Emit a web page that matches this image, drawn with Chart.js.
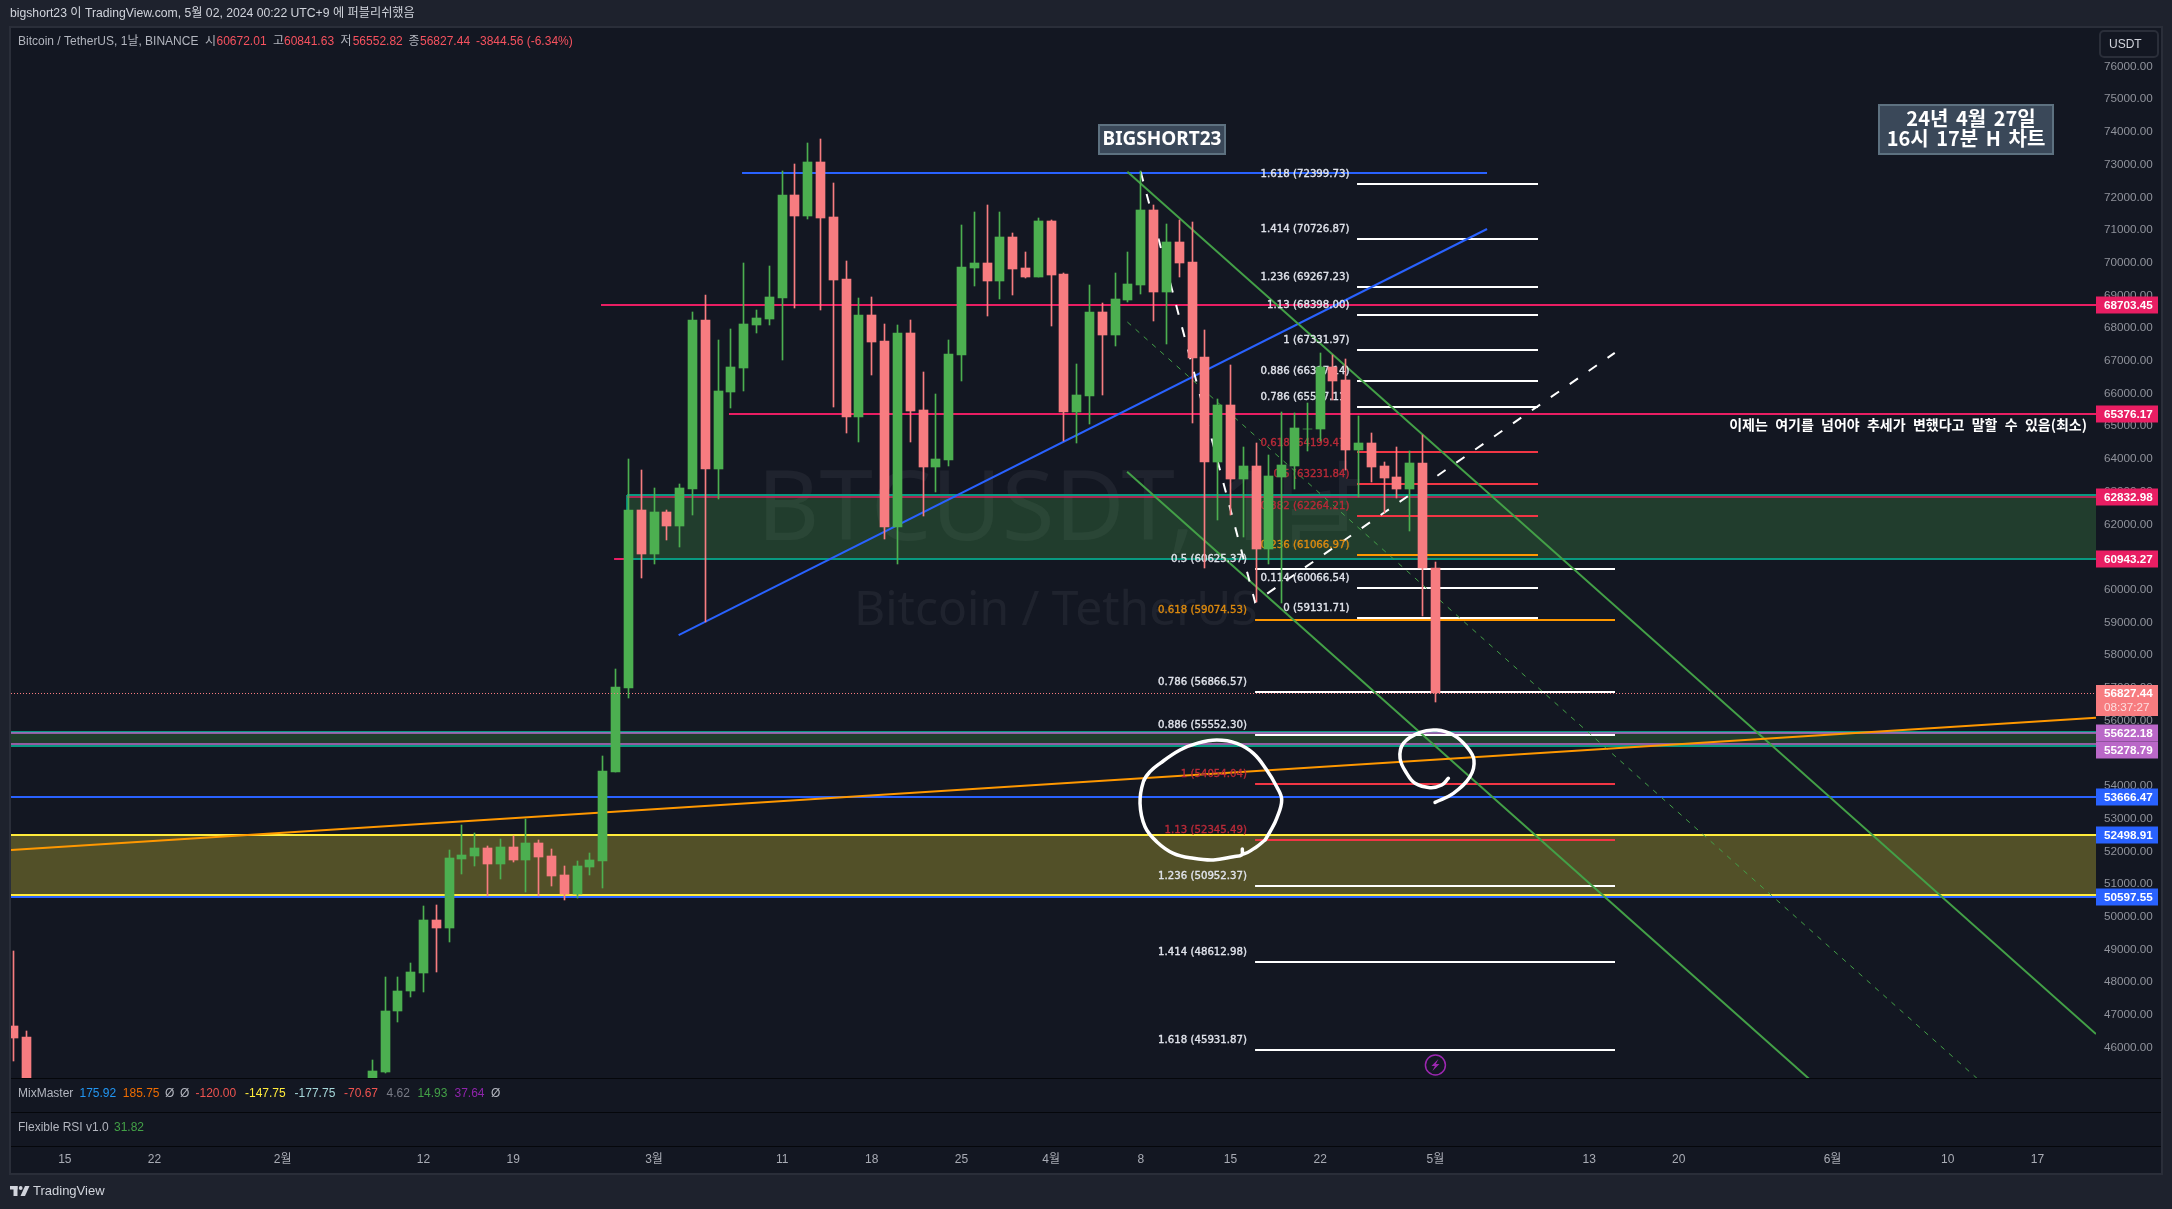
<!DOCTYPE html>
<html>
<head>
<meta charset="utf-8">
<title>BTCUSDT</title>
<script src="https://cdn.jsdelivr.net/npm/chart.js@4"></script>
<style>
  html, body { margin: 0; padding: 0; background: #1e222d; }
  canvas { display: block; }
</style>
</head>
<body>
<canvas id="chart" width="2172" height="1209"></canvas>
<script>
// candles
const candleDates = ['2024-01-11','2024-01-12','2024-02-08','2024-02-09','2024-02-10','2024-02-11','2024-02-12','2024-02-13','2024-02-14','2024-02-15','2024-02-16','2024-02-17','2024-02-18','2024-02-19','2024-02-20','2024-02-21','2024-02-22','2024-02-23','2024-02-24','2024-02-25','2024-02-26','2024-02-27','2024-02-28','2024-02-29',
  '2024-03-01','2024-03-02','2024-03-03','2024-03-04','2024-03-05','2024-03-06','2024-03-07','2024-03-08','2024-03-09','2024-03-10','2024-03-11','2024-03-12','2024-03-13','2024-03-14','2024-03-15','2024-03-16','2024-03-17','2024-03-18','2024-03-19','2024-03-20','2024-03-21','2024-03-22','2024-03-23','2024-03-24','2024-03-25','2024-03-26','2024-03-27','2024-03-28','2024-03-29','2024-03-30','2024-03-31',
  '2024-04-01','2024-04-02','2024-04-03','2024-04-04','2024-04-05','2024-04-06','2024-04-07','2024-04-08','2024-04-09','2024-04-10','2024-04-11','2024-04-12','2024-04-13','2024-04-14','2024-04-15','2024-04-16','2024-04-17','2024-04-18','2024-04-19','2024-04-20','2024-04-21','2024-04-22','2024-04-23','2024-04-24','2024-04-25','2024-04-26','2024-04-27','2024-04-28','2024-04-29','2024-04-30','2024-05-01'];
const opens = [46658,46320,44347,45260,47120,47730,48270,49900,49660,51770,51860,52100,51620,52140,51740,52250,51860,51280,50700,51520,51700,54420,56990,62430,
  61090,62370,61950,63080,68250,63690,66050,66780,68100,68280,68910,72070,71430,73080,71400,69500,65280,68390,67600,61920,67840,65500,63750,63970,67170,69840,69990,69440,70790,69840,69560,
  71270,69660,65430,65920,68490,67790,68860,69320,71610,69100,70630,70020,67120,63900,65650,63380,63790,61250,63450,63790,64900,64910,66810,66410,64280,64480,63790,63450,63080,63880,60672.01];
const highs = [48951,46500,45620,48170,48150,48600,50330,50360,52040,52810,52570,52160,52380,52470,52990,52350,52070,51550,51700,51950,54910,57570,63990,63660,
  63110,62430,63240,68500,69010,67640,67970,69990,68550,69900,72800,73020,73660,73780,72440,70050,68920,68950,68130,68100,68250,66650,65980,67640,71150,71560,71770,71560,70900,70330,71370,
  71300,69700,66910,69320,68770,69690,70320,72800,71770,71180,71300,71230,67950,65830,66870,64370,64480,64120,65450,65400,65700,67230,67180,67070,65300,64790,63910,64370,64240,64730,60841.63];
const lows = [45587,41500,44331,45230,46780,47540,47700,48300,49230,51300,51550,50630,51150,51680,50770,50630,50950,50510,50570,51280,50880,54420,56690,60350,
  60780,61530,61310,62290,59020,62770,65560,66070,67850,68100,67020,68610,71340,68550,65580,64790,64520,66570,61550,60780,64520,62250,62990,63790,66380,69290,68370,68890,69000,69540,69560,
  68060,64550,64480,65070,65950,67450,68800,69040,68220,67520,69570,65100,60660,62130,62300,61610,59630,60780,59600,63080,64240,64550,65800,63660,62830,63300,62340,62800,61800,59200,56552.82];
const closes = [46291,42782,45280,47120,47730,48300,49900,49660,51800,51890,52100,51620,52140,51750,52250,51830,51250,50700,51550,51740,54460,57030,62430,61090,
  62370,61950,63110,68250,63690,66070,66810,68130,68310,68950,72070,71430,73080,71370,69470,65280,68390,67570,61920,67840,65470,63750,64000,67200,69870,69990,69440,70790,69810,69560,71270,
  69620,65430,65950,68490,67790,68890,69350,71610,69100,70630,69990,67090,63900,65650,63380,63790,61250,63480,63820,64950,64930,66810,66390,64280,64480,63750,63420,63080,63880,60670,56827.44];

// axes
const priceTicks = [76000,75000,74000,73000,72000,71000,70000,69000,68000,67000,66000,65000,64000,63000,62000,61000,60000,59000,58000,57000,56000,55000,54000,53000,52000,51000,50000,49000,48000,47000,46000];
const timeTickDays = [-46,-39,-29,-18,-11,0,10,17,24,31,38,45,52,61,73,80,92,101,108];
const timeTickLabels = ['15','22','2월','12','19','3월','11','18','25','4월','8','15','22','5월','13','20','6월','10','17'];

// horizontal levels with their price tags
const levelPrices = [68703.45,65376.17,62832.98,60943.27,55622.18,55278.79,53666.47,52498.91,50597.55];
const levelStartDays = [-4.14,5.85,-2.1,-3.12,-50.2,-50.2,-50.2,-50.2,-50.2];
const levelColors = ['#e91e63','#e91e63','rgba(233,30,99,0.7)','#e91e63','rgba(186,104,200,0.75)','rgba(186,104,200,0.75)','#2962ff','#ffeb3b','#2962ff'];
const tagColors = ['#e91e63','#e91e63','#e91e63','#e91e63','#ba68c8','#ba68c8','#2962ff','#2962ff','#2962ff'];
const tagNudge = [0,0,0,0,0,6,0,0,0];

// shaded zones: start day, upper, lower
const zoneStartDays = [-2.1,-50.2,-50.2];
const zoneTops = [62897,55649,52509];
const zoneBottoms = [60943,55230,50664];

// fib levels, two drawings
const fibUpperLevels = ['1.618','1.414','1.236','1.13','1','0.886','0.786','0.618','0.5','0.382','0.236','0.114','0'];
const fibUpperPrices = [72399.73,70726.87,69267.23,68398.00,67331.97,66397.14,65577.11,64199.47,63231.84,62264.21,61066.97,60066.54,59131.71];
const fibUpperColors = ['w','w','w','w','w','w','w','r','r','r','o','w','w'];
const fibUpperDays = [54.88,69.01];
const fibLowerLevels = ['0.5','0.618','0.786','0.886','1','1.13','1.236','1.414','1.618'];
const fibLowerPrices = [60625.37,59074.53,56866.57,55552.30,54054.04,52345.49,50952.37,48612.98,45931.87];
const fibLowerColors = ['w','o','w','w','r','r','w','w','w'];
const fibLowerDays = [46.92,75.02];

// trend lines
const orangeDays = [-50.2,112.57], orangePrices = [52041,56086];
const blueTopDays = [6.87,65.03], blueTopPrices = [72752,72752];
const blueDiagDays = [1.92,65.03], blueDiagPrices = [58615,71031];
const channelTopDays = [36.95,112.57], channelTopPrices = [72783,46414];
const channelMidDays = [36.95,104], channelMidPrices = [68187,44807];
const channelLowDays = [36.93,92], channelLowPrices = [63609,44406];
const whiteDashDays = [37.99,46.92,75], whiteDashPrices = [72783,59625,67242];

// hand drawn circles
const bigCircleDays = [47.70,47.05,46.01,45.92,45.88,45.23,43.67,42.11,40.54,39.24,38.33,37.94,38.20,38.72,39.50,41.06,42.37,43.93,45.49,46.79,47.83,48.61,49.00,48.61,48.09,47.70];
const bigCirclePrices = [52347,52143,51918,52070,51890,51837,51735,51786,51939,52296,52754,53468,54130,54436,54691,55099,55302,55404,55302,54997,54487,53977,53570,53009,52601,52347];
const smallCircleDays = [62.01,61.49,60.58,59.41,58.76,58.24,58.50,59.80,61.10,62.40,63.44,64.01,63.70,62.40,60.97];
const smallCirclePrices = [54232,54028,53947,54079,54385,54844,55303,55639,55710,55557,55201,54793,54283,53774,53498];

const UP = '#4caf50', DOWN = '#f77c80';
const X_MIN = -50.2, X_MAX = 112.57, Y_MIN = 45069, Y_MAX = 77208;
const BG = '#131722', PAGE = '#1e222d';
const FIB_COLORS = { w: '#ffffff', r: '#f23645', o: '#ff9800' };
const FIB_TEXT = { w: '#e0e3eb', r: '#b92a38', o: '#dd8a0e' };
const SANS = '"Liberation Sans","Noto Sans CJK KR"';

function toDay(s) {
    const p = s.split('-');
    return (Date.UTC(+p[0], +p[1] - 1, +p[2]) - Date.UTC(2024, 2, 1)) / 86400000;
}

function pts(days, prices) {
    return days.map((d, i) => ({ x: d, y: prices[i] }));
}

function lineSet(label, days, prices, color, width, order, extra) {
    return Object.assign({
        type: 'line', label: label, data: pts(days, prices), borderColor: color, borderWidth: width,
        pointRadius: 0, order: order, fill: false, tension: 0
    }, extra || {});
}

const candleColors = opens.map((o, i) => closes[i] >= o ? UP : DOWN);
const datasets = [];

// bodies on top, wicks under them, everything else below
datasets.push({
    type: 'bar', label: 'bodies', grouped: false, barThickness: 9, order: 0,
    data: candleDates.map((d, i) => ({ x: toDay(d), y: [opens[i], closes[i]] })),
    backgroundColor: candleColors
});
datasets.push({
    type: 'bar', label: 'wicks', grouped: false, barThickness: 1, order: 1,
    data: candleDates.map((d, i) => ({ x: toDay(d), y: [lows[i], highs[i]] })),
    backgroundColor: candleColors
});

zoneTops.forEach((top, i) => {
    const isYellow = i === 2;
    const edge = isYellow ? '#ffeb3b' : '#089981';
    datasets.push(lineSet('zone' + i, [zoneStartDays[i], X_MAX], [top, top], edge, 2, 20, {
        fill: { value: zoneBottoms[i] }, crisp: true,
        backgroundColor: isYellow ? 'rgba(255,235,59,0.27)' : 'rgba(76,175,80,0.25)'
    }));
    datasets.push(lineSet('zoneBottom' + i, [zoneStartDays[i], X_MAX], [zoneBottoms[i], zoneBottoms[i]], edge, 2, 19, { crisp: true }));
    // the other two zones run off the left edge of the pane
    if (i === 0) {
        datasets.push(lineSet('zoneLeft' + i, [zoneStartDays[i], zoneStartDays[i]], [zoneBottoms[i], top], edge, 2, 19));
    }
});

levelPrices.forEach((p, i) => {
    datasets.push(lineSet('level' + i, [levelStartDays[i], X_MAX], [p, p], levelColors[i], 2, i === 3 ? 25 : 15, { crisp: true }));
});

fibUpperPrices.forEach((p, i) => {
    datasets.push(lineSet('fibU' + i, fibUpperDays, [p, p], FIB_COLORS[fibUpperColors[i]], 2, 12, { crisp: true }));
});
fibLowerPrices.forEach((p, i) => {
    datasets.push(lineSet('fibL' + i, fibLowerDays, [p, p], FIB_COLORS[fibLowerColors[i]], 2, 12, { crisp: true }));
});

datasets.push(lineSet('blueTop', blueTopDays, blueTopPrices, '#2962ff', 2, 10, { crisp: true }));
datasets.push(lineSet('blueDiag', blueDiagDays, blueDiagPrices, '#2962ff', 2, 10));
datasets.push(lineSet('channelTop', channelTopDays, channelTopPrices, '#43a047', 2, 9));
datasets.push(lineSet('channelLow', channelLowDays, channelLowPrices, '#43a047', 2, 9));
datasets.push(lineSet('channelMid', channelMidDays, channelMidPrices, '#43a047', 1, 9, { borderDash: [5, 6] }));
datasets.push(lineSet('orange', orangeDays, orangePrices, '#ff9800', 2, 8));
datasets.push(lineSet('whiteDash', whiteDashDays, whiteDashPrices, '#ffffff', 2, 7, { borderDash: [10, 13] }));
datasets.push(lineSet('bigCircle', bigCircleDays, bigCirclePrices, '#ffffff', 3.5, 6, { tension: 0.4, borderCapStyle: 'round', borderJoinStyle: 'round' }));
datasets.push(lineSet('smallCircle', smallCircleDays, smallCirclePrices, '#ffffff', 3.5, 6, { tension: 0.4, borderCapStyle: 'round', borderJoinStyle: 'round' }));

function txt(ctx, str, x, y, color, font, align) {
    ctx.font = font;
    ctx.fillStyle = color;
    ctx.textAlign = align || 'left';
    ctx.textBaseline = 'middle';
    ctx.fillText(str, x, y);
}

function box(ctx, x, y, w, h, fill, stroke, lw) {
    ctx.fillStyle = fill;
    ctx.fillRect(x, y, w, h);
    ctx.strokeStyle = stroke;
    ctx.lineWidth = lw;
    ctx.strokeRect(x + lw / 2, y + lw / 2, w - lw, h - lw);
}

// fib text sits under the candles; a hairline stroke thickens it like the original
function fibLabel(ctx, str, x, y, color) {
    txt(ctx, str, x, y, color, '10.2px "DejaVu Sans"', 'right');
    ctx.strokeStyle = color;
    ctx.lineWidth = 0.35;
    ctx.strokeText(str, x, y);
}

function drawFibLabels(chart) {
    const ctx = chart.ctx, y = chart.scales.y;
    fibUpperPrices.forEach((p, i) => {
        fibLabel(ctx, fibUpperLevels[i] + ' (' + p.toFixed(2) + ')', 1349.5, y.getPixelForValue(p) - 9.5, FIB_TEXT[fibUpperColors[i]]);
    });
    fibLowerPrices.forEach((p, i) => {
        fibLabel(ctx, fibLowerLevels[i] + ' (' + p.toFixed(2) + ')', 1247, y.getPixelForValue(p) - 9.5, FIB_TEXT[fibLowerColors[i]]);
    });
}

const chromePlugin = {
    id: 'chrome',
    beforeDraw(chart) {
        const ctx = chart.ctx;
        ctx.save();
        ctx.fillStyle = PAGE;
        ctx.fillRect(0, 0, 2172, 1209);
        ctx.fillStyle = BG;
        ctx.fillRect(11, 28, 2150, 1145);
        ctx.strokeStyle = '#2a2e39';
        ctx.lineWidth = 2;
        ctx.strokeRect(10, 27, 2152, 1147);
        ctx.restore();
    },
    beforeDatasetsDraw(chart) {
        // watermark sits under the zones
        const ctx = chart.ctx;
        ctx.save();
        ctx.textBaseline = 'alphabetic';
        ctx.textAlign = 'left';
        ctx.fillStyle = 'rgba(255,255,255,0.055)';
        ctx.font = '96px "Noto Sans","Noto Sans CJK KR"';
        ctx.fillText('BTCUSDT, 1날', 757, 540);
        ctx.font = '48px "Noto Sans","Noto Sans CJK KR"';
        ctx.fillText('Bitcoin / TetherUS', 854, 625);
        ctx.restore();
    },
    beforeDatasetDraw(chart, args) {
        const ds = chart.data.datasets[args.index];
        // keep thin marks on whole pixels
        if (args.meta.type === 'bar') {
            args.meta.data.forEach(el => {
                el.x = Math.floor(el.x) + 0.5;
                el.y = Math.round(el.y);
                el.base = Math.round(el.base);
            });
        } else if (ds.crisp) {
            args.meta.data.forEach(el => { el.y = Math.round(el.y); });
        }
        if (ds.label === 'wicks') {
            const ctx = chart.ctx;
            ctx.save();
            drawFibLabels(chart);
            ctx.restore();
        }
    },
    afterDraw(chart) {
        const ctx = chart.ctx, y = chart.scales.y, x = chart.scales.x;
        ctx.save();

        // pane separators
        ctx.fillStyle = '#05070b';
        ctx.fillRect(11, 1078, 2150, 1);
        ctx.fillRect(11, 1112, 2150, 1);
        ctx.fillRect(11, 1146, 2150, 1);

        const ui = '12px ' + SANS;
        txt(ctx, 'bigshort23 이 TradingView.com, 5월 02, 2024 00:22 UTC+9 에 퍼블리쉬했음', 10, 14, '#d1d4dc', '12.2px ' + SANS);

        // legend line
        const grey = '#b2b5be', red = '#f7525f';
        [['Bitcoin / TetherUS, 1날, BINANCE', 18, grey], ['시', 205, grey], ['60672.01', 216.5, red], ['고', 273, grey], ['60841.63', 284, red],
         ['저', 340.6, grey], ['56552.82', 352.7, red], ['종', 408.5, grey], ['56827.44', 420, red], ['-3844.56 (-6.34%)', 476, red]]
            .forEach(t => txt(ctx, t[0], t[1], 41.5, t[2], ui));

        // indicator panes
        [['MixMaster', 18, grey], ['175.92', 79.5, '#2196f3'], ['185.75', 122.8, '#ef6c00'], ['Ø', 165, grey], ['Ø', 180, grey], ['-120.00', 195.5, '#ef5350'],
         ['-147.75', 245, '#ffeb3b'], ['-177.75', 294.6, '#a5d6d9'], ['-70.67', 344, '#ef5350'], ['4.62', 386.6, '#787b86'], ['14.93', 417.4, '#43a047'],
         ['37.64', 454.5, '#8e24aa'], ['Ø', 491, grey]]
            .forEach(t => txt(ctx, t[0], t[1], 1094, t[2], ui));
        txt(ctx, 'Flexible RSI v1.0', 18, 1128, grey, ui);
        txt(ctx, '31.82', 114, 1128, '#43a047', ui);

        // text boxes
        box(ctx, 1098, 124, 128, 31, '#3a4859', '#5d7180', 2);
        txt(ctx, 'BIGSHORT23', 1162, 140, '#ffffff', 'bold 19px "Noto Sans"', 'center');
        box(ctx, 1878, 104, 176, 51, '#3a4859', '#5d7180', 2);
        ctx.wordSpacing = '3px';
        txt(ctx, '24년 4월 27일', 1971, 118, '#ffffff', 'bold 20px "Noto Sans CJK KR"', 'center');
        txt(ctx, '16시 17분 H 차트', 1966, 138, '#ffffff', 'bold 20px "Noto Sans CJK KR"', 'center');
        ctx.wordSpacing = '4.1px';
        txt(ctx, '이제는 여기를 넘어야 추세가 변했다고 말할 수 있음(최소)', 2087, 425, '#ffffff', 'bold 14px "Noto Sans CJK KR"', 'right');
        ctx.wordSpacing = '0px';

        // last-bar marker
        const mx = x.getPixelForValue(61), my = y.getPixelForValue(45466);
        ctx.strokeStyle = '#9c27b0';
        ctx.lineWidth = 1.5;
        ctx.beginPath();
        ctx.arc(mx, my, 10, 0, Math.PI * 2);
        ctx.stroke();
        ctx.fillStyle = '#9c27b0';
        ctx.beginPath();
        ctx.moveTo(mx + 3, my - 6);
        ctx.lineTo(mx - 4, my + 1);
        ctx.lineTo(mx - 0.5, my + 1);
        ctx.lineTo(mx - 3, my + 6);
        ctx.lineTo(mx + 4, my - 1);
        ctx.lineTo(mx + 0.5, my - 1);
        ctx.closePath();
        ctx.fill();

        // price tags
        levelPrices.forEach((p, i) => {
            const cy = Math.round(y.getPixelForValue(p)) + tagNudge[i];
            ctx.fillStyle = tagColors[i];
            ctx.fillRect(2096, cy - 8.5, 62, 17);
            txt(ctx, p.toFixed(2), 2104, cy + 0.5, '#ffffff', 'bold 11.7px ' + SANS);
        });
        const lastY = Math.round(y.getPixelForValue(closes[closes.length - 1]));
        ctx.fillStyle = DOWN;
        ctx.fillRect(2096, lastY - 8, 62, 31);
        txt(ctx, closes[closes.length - 1].toFixed(2), 2104, lastY + 0.5, '#ffffff', 'bold 11.7px ' + SANS);
        txt(ctx, '08:37:27', 2104, lastY + 15, 'rgba(255,255,255,0.75)', '11.7px ' + SANS);

        // last price dotted line
        ctx.strokeStyle = DOWN;
        ctx.lineWidth = 1;
        ctx.setLineDash([1, 2]);
        ctx.beginPath();
        ctx.moveTo(11, lastY + 0.5);
        ctx.lineTo(2096, lastY + 0.5);
        ctx.stroke();
        ctx.setLineDash([]);

        // currency button
        ctx.strokeStyle = '#2a2e39';
        ctx.lineWidth = 2;
        ctx.beginPath();
        ctx.roundRect(2100, 31, 58, 26, 4);
        ctx.stroke();
        txt(ctx, 'USDT', 2109, 44.5, '#d1d4dc', ui);

        // footer logo
        ctx.fillStyle = '#d1d4dc';
        ctx.fillRect(10, 1186, 7.5, 3.5);
        ctx.fillRect(13.5, 1186, 4, 10);
        ctx.beginPath();
        ctx.arc(20.7, 1188, 1.9, 0, Math.PI * 2);
        ctx.fill();
        ctx.beginPath();
        ctx.moveTo(25, 1186);
        ctx.lineTo(29.5, 1186);
        ctx.lineTo(25, 1196);
        ctx.lineTo(20.5, 1196);
        ctx.closePath();
        ctx.fill();
        txt(ctx, 'TradingView', 33, 1191.5, '#d1d4dc', '13px ' + SANS);

        ctx.restore();
    }
};

new Chart(document.getElementById('chart').getContext('2d'), {
    data: { datasets: datasets },
    plugins: [chromePlugin],
    options: {
        responsive: false,
        animation: false,
        devicePixelRatio: 1,
        layout: { padding: { left: 11, top: 27, right: 10, bottom: 36 } },
        plugins: { legend: { display: false }, tooltip: { enabled: false } },
        scales: {
            x: {
                type: 'linear',
                offset: false,
                min: X_MIN,
                max: X_MAX,
                grid: { display: false, drawTicks: false },
                border: { display: false },
                afterBuildTicks: scale => { scale.ticks = timeTickDays.map(v => ({ value: v })); },
                // the big tick padding would otherwise eat into the plot width
                afterFit: scale => { scale.height = 95; scale.paddingLeft = 0; scale.paddingRight = 0; },
                ticks: {
                    autoSkip: false,
                    maxRotation: 0,
                    padding: 74,
                    color: '#a9acb5',
                    font: { family: SANS, size: 12 },
                    callback: value => timeTickLabels[timeTickDays.indexOf(value)]
                }
            },
            y: {
                type: 'linear',
                position: 'right',
                min: Y_MIN,
                max: Y_MAX,
                grid: { display: false, drawTicks: false },
                border: { display: false },
                afterBuildTicks: scale => { scale.ticks = priceTicks.map(v => ({ value: v })); },
                afterFit: scale => { scale.width = 66; },
                ticks: {
                    autoSkip: false,
                    padding: 8,
                    color: '#90939c',
                    font: { family: SANS, size: 11.7 },
                    callback: value => Number(value).toFixed(2)
                }
            }
        }
    }
});
</script>
</body>
</html>
